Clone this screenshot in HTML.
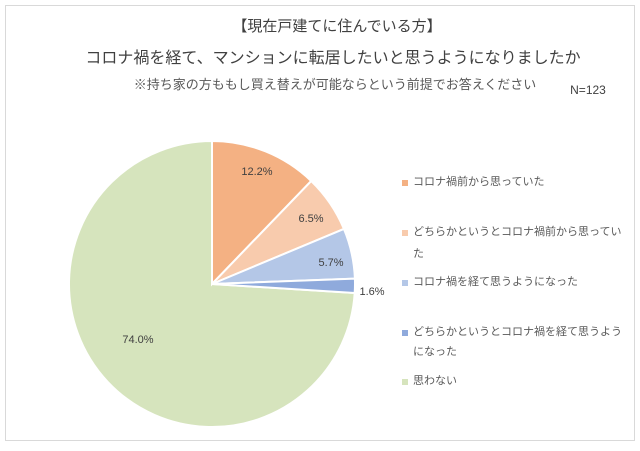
<!DOCTYPE html>
<html><head><meta charset="utf-8"><style>
body{margin:0;background:#fff;width:640px;height:446px;overflow:hidden}
</style></head><body>
<svg width="640" height="446" xmlns="http://www.w3.org/2000/svg" font-family="Liberation Sans, Noto Sans CJK JP, sans-serif">
<rect x="5.5" y="5.5" width="629" height="435" fill="#fff" stroke="#d9d9d9"/>
<text x="337" y="31" text-anchor="middle" font-size="15" fill="#404040">【現在戸建てに住んでいる方】</text>
<text x="333" y="63" text-anchor="middle" font-size="16" fill="#404040">コロナ禍を経て、マンションに転居したいと思うようになりましたか</text>
<text x="335" y="89" text-anchor="middle" font-size="13" fill="#595959">※持ち家の方ももし買え替えが可能ならという前提でお答えください</text>
<text x="588" y="94" text-anchor="middle" font-size="12" fill="#404040">N=123</text>
<g stroke="#fff" stroke-width="2">
<path d="M212,284 L354.7,293 A143,143 0 1 1 212,141 Z" fill="#d6e4bd"/>
<path d="M212,284 L212,141 A143,143 0 0 1 311.2,181 Z" fill="#f4b183"/>
<path d="M212,284 L311.2,181 A143,143 0 0 1 343.9,228.9 Z" fill="#f8cbad"/>
<path d="M212,284 L343.9,228.9 A143,143 0 0 1 354.9,278.6 Z" fill="#b4c7e7"/>
<path d="M212,284 L354.9,278.6 A143,143 0 0 1 354.7,293 Z" fill="#8faadc"/>
</g>
<g font-size="11" fill="#404040" text-anchor="middle">
<text x="257" y="175">12.2%</text>
<text x="311" y="222">6.5%</text>
<text x="331" y="266">5.7%</text>
<text x="372" y="295">1.6%</text>
<text x="138" y="343">74.0%</text>
</g>
<g font-size="11" fill="#595959">
<rect x="402" y="180" width="6" height="6" fill="#f4b183"/><text x="413" y="185">コロナ禍前から思っていた</text>
<rect x="402" y="230" width="6" height="6" fill="#f8cbad"/><text x="413" y="235">どちらかというとコロナ禍前から思ってい</text><text x="413" y="257">た</text>
<rect x="402" y="280" width="6" height="6" fill="#b4c7e7"/><text x="413" y="285">コロナ禍を経て思うようになった</text>
<rect x="402" y="330" width="6" height="6" fill="#8faadc"/><text x="413" y="335">どちらかというとコロナ禍を経て思うよう</text><text x="413" y="355">になった</text>
<rect x="402" y="379" width="6" height="6" fill="#d6e4bd"/><text x="413" y="384">思わない</text>
</g>
</svg>
</body></html>
